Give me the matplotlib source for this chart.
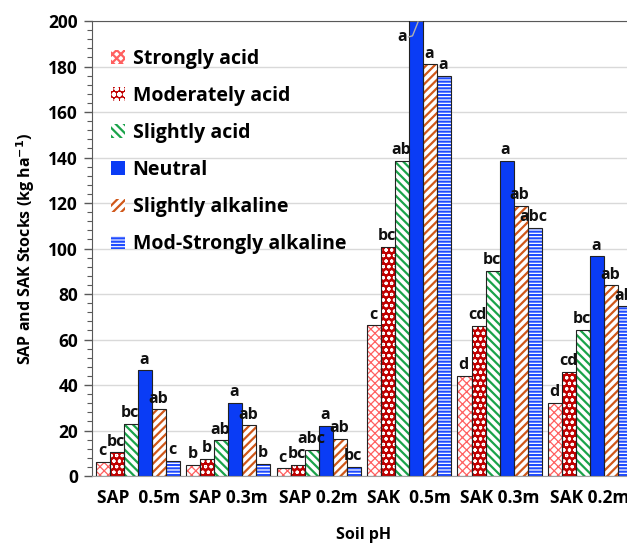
import numpy as np
import matplotlib
matplotlib.use("Agg")
import matplotlib.pyplot as plt
from matplotlib.ticker import MultipleLocator

plt.rcParams['font.family'] = ['Open Sans', 'DejaVu Sans']
plt.rcParams['font.weight'] = 'bold'
plt.rcParams['hatch.linewidth'] = 1.6

# depth groups on the x axis
groups = ["SAP  0.5m", "SAP 0.3m", "SAP 0.2m", "SAK  0.5m", "SAK 0.3m", "SAK 0.2m"]
classes = ["Strongly acid", "Moderately acid", "Slightly acid", "Neutral",
           "Slightly alkaline", "Mod-Strongly alkaline"]

# stocks (kg/ha), one list per pH class
strongly_acid = [6.2, 5.0, 3.4, 66.2, 44.0, 32.1]
moderately_acid = [10.4, 7.4, 5.0, 100.6, 65.9, 45.9]
slightly_acid = [22.8, 15.7, 11.6, 138.5, 90.2, 64.2]
neutral = [46.4, 32.3, 22.1, 215.0, 138.5, 96.5]
slightly_alkaline = [29.3, 22.2, 16.3, 180.9, 118.7, 83.8]
mod_strongly_alkaline = [6.5, 5.2, 4.1, 175.8, 109.0, 74.6]

# significance letters
letters_sa = ["c", "b", "c", "c", "d", "d"]
letters_ma = ["bc", "b", "bc", "bc", "cd", "cd"]
letters_sla = ["bc", "ab", "abc", "ab", "bc", "bc"]
letters_n = ["a", "a", "a", "a", "a", "a"]
letters_salk = ["ab", "ab", "ab", "a", "ab", "ab"]
letters_msa = ["c", "b", "bc", "a", "abc", "ab"]

series = [strongly_acid, moderately_acid, slightly_acid, neutral,
          slightly_alkaline, mod_strongly_alkaline]
letters = [letters_sa, letters_ma, letters_sla, letters_n, letters_salk, letters_msa]

# (face, hatch colour, hatch, hatch width)
styles = [
    ("white", "#ff6060", "xxxx", 0.9),
    ("#c00000", "white", "ooo", 0.8),
    ("white", "#1aa34a", "\\\\\\\\", 1.6),
    ("#0a3cf5", "#0a3cf5", "", 1.0),
    ("white", "#d0581a", "////", 1.6),
    ("white", "#1f4bff", "-----", 1.5),
]

fig = plt.figure(figsize=(6.27, 5.46), dpi=100)
ax = fig.add_axes([0.1467, 0.1282, 0.8676, 0.8333])

x = np.arange(len(groups))
w = 0.155
handles = []
for i, (vals, st) in enumerate(zip(series, styles)):
    pos = x + (i - 2.5) * w
    face, hc, hatch, hw = st
    with plt.rc_context({'hatch.linewidth': hw}):
        ax.bar(pos, vals, w, facecolor=face, edgecolor=hc, hatch=hatch, linewidth=0, zorder=2)
        hp = plt.Rectangle((0, 0), 1, 1, facecolor=face, edgecolor=hc, hatch=hatch, linewidth=0)
    ax.bar(pos, vals, w, facecolor="none", edgecolor="#222222", linewidth=0.8, zorder=3)
    for p, v, t in zip(pos, vals, letters[i]):
        if v > 200:
            continue
        ax.text(p - 0.01, v + 1.2, t, ha="center", va="bottom", fontsize=11.5,
                fontweight="bold", color="#111111", zorder=4)
    handles.append(hp)

# clipped neutral bar of SAK 0.5m: letter placed to the left with a break mark
bx = x[3] + 0.5 * w
ax.plot([bx - 0.085, bx - 0.04, bx + 0.02], [193, 193.5, 199.5], color="#b0b0b0",
        lw=1.0, zorder=5, clip_on=False)
ax.text(bx - 0.1, 193, letters_n[3], ha="right", va="center", fontsize=11.5,
        fontweight="bold", color="#111111")

ax.set_ylim(0, 200)
ax.set_xlim(-0.51, 5.51)
ax.yaxis.set_major_locator(MultipleLocator(20))
ax.yaxis.set_minor_locator(MultipleLocator(4))
ax.grid(axis="y", color="#d9d9d9", lw=1.0, zorder=0)
ax.set_axisbelow(True)
ax.tick_params(axis="y", which="major", length=6, width=1, color="#595959",
               labelsize=12.5, pad=4)
ax.tick_params(axis="y", which="minor", length=3.5, width=0.8, color="#595959")
ax.set_xticks(x)
ax.set_xticklabels(groups, fontsize=12.5, fontweight="bold")
ax.tick_params(axis="x", length=0, pad=9)
ax.spines["right"].set_visible(False)
ax.spines["left"].set_color("#595959")
ax.spines["top"].set_color("#595959")
ax.spines["bottom"].set_color("#a0a0a0")
for lab in ax.get_yticklabels():
    lab.set_fontweight("bold")

ax.set_ylabel("SAP and SAK Stocks (kg ha$^{\\mathbf{-1}}$)", fontsize=11.5,
              fontweight="bold", labelpad=8)
ax.set_xlabel("Soil pH", fontsize=11.5, fontweight="bold", labelpad=14.5)

leg = ax.legend(handles, classes, loc="upper left", bbox_to_anchor=(0.165, 0.925),
                bbox_transform=fig.transFigure, frameon=False, fontsize=14,
                handlelength=0.7, handleheight=0.7, handletextpad=0.4,
                labelspacing=0.88, borderaxespad=0)
for t in leg.get_texts():
    t.set_fontweight("bold")

fig.savefig("out.png", dpi=100)
